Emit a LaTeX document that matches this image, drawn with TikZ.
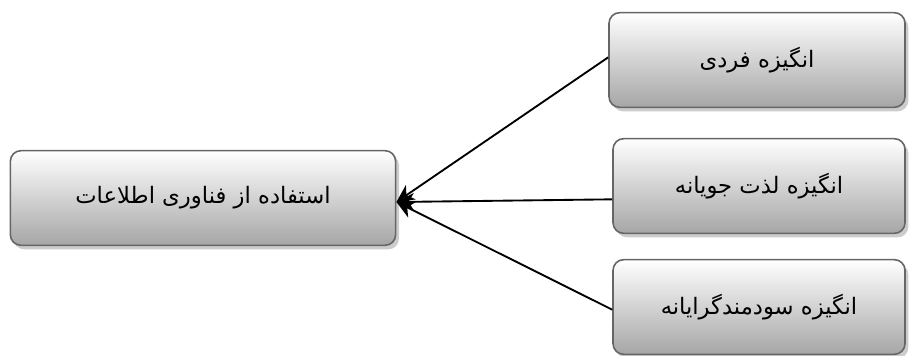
\documentclass[tikz,border=0pt]{standalone}
\usepackage{fontspec}
\newfontfamily\arabicfont[Script=Arabic]{DejaVu Sans}
\TeXXeTstate=1
\usetikzlibrary{arrows.meta,shadows}
\begin{document}
\begin{tikzpicture}[x=0.75pt,y=-0.75pt]
    \tikzset{>={Stealth[length=13pt,width=13pt,inset=4pt]}}
    \tikzset{box/.style={draw=black!60,line width=1.2pt,rounded corners=8pt,
        top color=white,bottom color=black!35,
        drop shadow={shadow xshift=2.5pt,shadow yshift=-3pt,fill=black!40},
        minimum height=71pt,font=\arabicfont\fontsize{17}{20}\selectfont}}
    \useasboundingbox (0,0) rectangle (909,356);
    \node[box,minimum width=289pt] (use) at (203,198) {\beginR استفاده از فناوری اطلاعات\endR};
    \node[box,minimum width=222pt] (ind) at (757,60) {\beginR انگیزه فردی\endR};
    \node[box,minimum width=219pt] (hed) at (759,186) {\beginR انگیزه لذت جویانه\endR};
    \node[box,minimum width=219pt] (utl) at (759,307) {\beginR انگیزه سودمندگرایانه\endR};
    \draw[->,line width=1.4pt] ([yshift=2pt]ind.west) -- ([yshift=-3pt]use.east);
    \draw[->,line width=1.4pt] ([yshift=-10pt]hed.west) -- ([yshift=-3pt]use.east);
    \draw[->,line width=1.4pt] ([yshift=-2pt]utl.west) -- ([yshift=-3pt]use.east);
\end{tikzpicture}
\end{document}
